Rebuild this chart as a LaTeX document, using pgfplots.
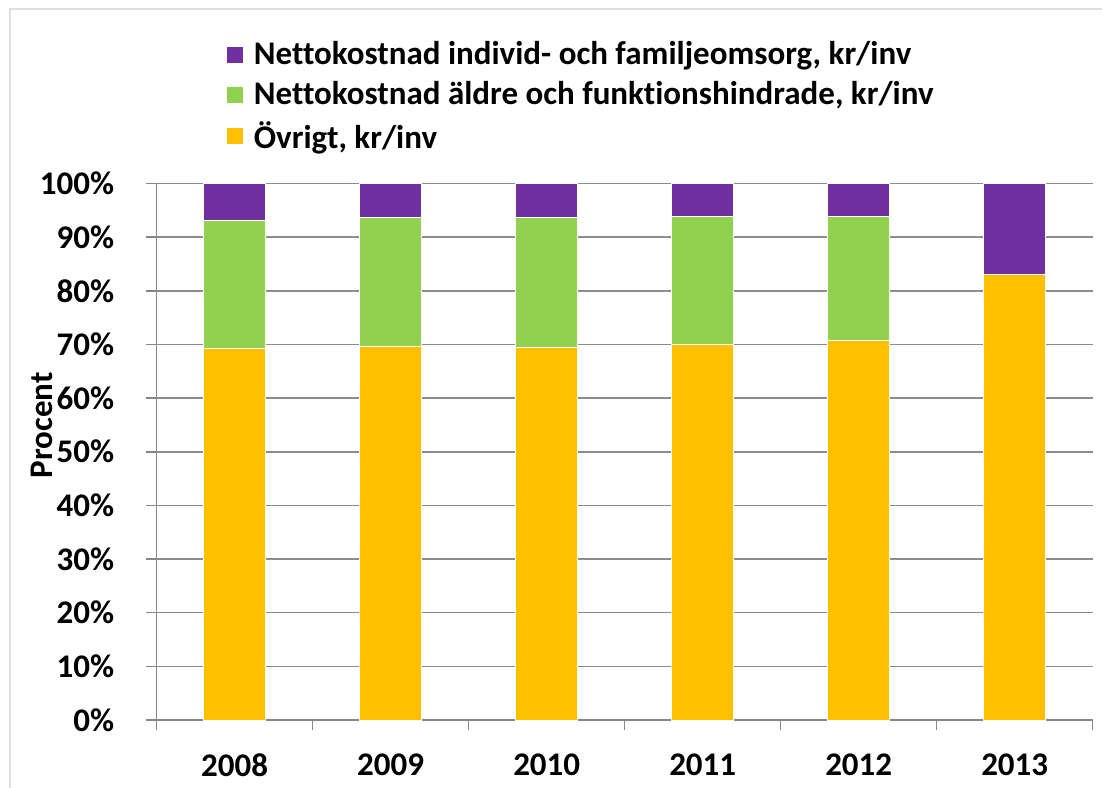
\documentclass[border=0pt]{standalone}
\usepackage{fontspec}
\setmainfont{Carlito}[Ligatures=NoCommon]
\usepackage{pgfplots}
\pgfplotsset{compat=1.18}
\definecolor{cpurple}{HTML}{7030A0}
\definecolor{cgreen}{HTML}{92D050}
\definecolor{corange}{HTML}{FFC000}
\definecolor{cgrid}{HTML}{8C8C8C}
\definecolor{caxis}{HTML}{868686}
\begin{document}
\begin{tikzpicture}
\useasboundingbox (-78.35pt,-33.5pt) rectangle (472.65pt,360pt);
\fill[white] (-78.35pt,-33.5pt) rectangle (472.65pt,360pt);
\draw[black!12, line width=0.6pt] (-73.35pt,-40pt) -- (-73.35pt,355.5pt) -- (480pt,355.5pt);
\begin{axis}[
  at={(0,0)}, anchor=south west,
  scale only axis,
  width=468pt, height=268.25pt,
  ybar stacked,
  bar width=31pt,
  xmin=-0.5, xmax=5.5,
  ymin=0, ymax=100,
  axis x line*=bottom, axis y line*=left,
  axis line style={caxis, line width=0.75pt},
  xtick={0,1,2,3,4,5},
  xticklabels={2008,2009,2010,2011,2012,2013},
  xtick style={draw=none},
  extra x ticks={-0.5,0.5,1.5,2.5,3.5,4.5,5.5},
  extra x tick labels={},
  extra x tick style={xtick style={draw=caxis, line width=0.75pt}, major tick length=5pt, grid=none},
  ytick={0,10,20,30,40,50,60,70,80,90,100},
  yticklabels={0\%,10\%,20\%,30\%,40\%,50\%,60\%,70\%,80\%,90\%,100\%},
  ytick style={draw=caxis, line width=0.75pt},
  tick align=outside,
  major tick length=5.5pt,
  ymajorgrids=true,
  major grid style={cgrid, line width=0.75pt},
  tick label style={font=\fontsize{16.5}{19}\selectfont\bfseries, text=black},
  yticklabel style={inner sep=0pt, xshift=-15.6pt},
  xticklabel style={inner sep=0pt, yshift=-11pt},
  ylabel={Procent},
  ylabel style={font=\fontsize{16.5}{19}\selectfont\bfseries, at={(axis description cs:-0.1225,0.549)}, anchor=center},
  legend style={at={(axis description cs:0.0735,1.2725)}, anchor=north west, draw=none, fill=none,
     font=\fontsize{16.5}{19}\selectfont\bfseries, inner sep=0pt, row sep=2.8pt,
     nodes={inner sep=2pt}},
  legend cell align=left,
  reverse legend,
  legend image code/.code={\fill[#1] (0pt,-4.25pt) rectangle (8.5pt,4.25pt); \path (11.5pt,0pt);},
]
\addplot[fill=corange, draw=white, line width=0.5pt] coordinates {(0,69.2) (1,69.7) (2,69.4) (3,70.0) (4,70.7) (5,83.0)};
\addlegendentry{Övrigt, kr/inv}
\addplot[fill=cgreen, draw=white, line width=0.5pt] coordinates {(0,23.9) (1,23.9) (2,24.2) (3,23.9) (4,23.2) (5,0)};
\addlegendentry{Nettokostnad äldre och funktionshindrade, kr/inv}
\addplot[fill=cpurple, draw=white, line width=0.5pt] coordinates {(0,6.9) (1,6.4) (2,6.4) (3,6.1) (4,6.1) (5,17.0)};
\addlegendentry{Nettokostnad individ- och familjeomsorg, kr/inv}
\end{axis}
\end{tikzpicture}
\end{document}
